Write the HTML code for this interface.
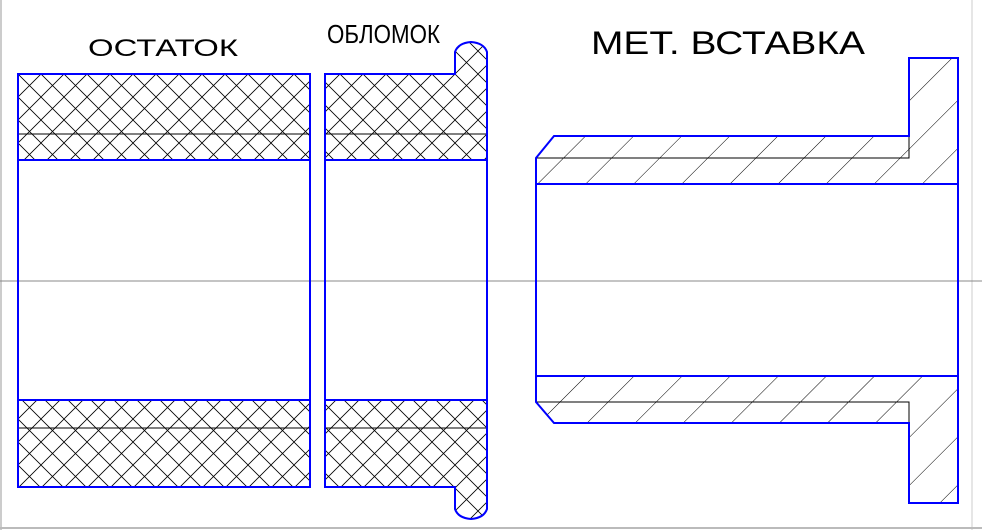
<!DOCTYPE html>
<html><head><meta charset="utf-8"><style>
html,body{margin:0;padding:0;background:#fff;width:982px;height:530px;overflow:hidden}
svg{display:block}
</style></head><body>
<svg width="982" height="530" xmlns="http://www.w3.org/2000/svg">
<defs>
<pattern id="x" width="23" height="23" patternUnits="userSpaceOnUse" x="18" y="74">
<path d="M0,0L23,23M23,0L0,23" stroke="#000" stroke-width="0.8"/>
</pattern>
<pattern id="h" width="34" height="34" patternUnits="userSpaceOnUse" patternTransform="rotate(-45)">
<path d="M0,0H34" stroke="#000" stroke-width="1"/>
</pattern>
</defs>
<line x1="1" y1="0" x2="1" y2="530" stroke="#999"/>
<line x1="972" y1="0" x2="972" y2="530" stroke="#ccc"/>
<line x1="0" y1="528" x2="982" y2="528" stroke="#bbb" stroke-width="2"/>
<line x1="0" y1="281" x2="982" y2="281" stroke="#888"/>
<g font-family="Liberation Sans, sans-serif" fill="#000">
<text x="88" y="56" font-size="24" textLength="150" lengthAdjust="spacingAndGlyphs">ОСТАТОК</text>
<text x="327" y="43" font-size="26" textLength="113" lengthAdjust="spacingAndGlyphs">ОБЛОМОК</text>
<text x="591" y="54" font-size="32" textLength="274" lengthAdjust="spacingAndGlyphs">МЕТ. ВСТАВКА</text>
</g>
<!-- left part -->
<rect x="18" y="74" width="292" height="86" fill="url(#x)"/>
<rect x="18" y="400" width="292" height="87" fill="url(#x)"/>
<line x1="18" y1="134" x2="310" y2="134" stroke="#000"/>
<line x1="18" y1="428" x2="310" y2="428" stroke="#000"/>
<rect x="18" y="74" width="292" height="413" fill="none" stroke="#00f" stroke-width="2"/>
<line x1="18" y1="160" x2="310" y2="160" stroke="#00f" stroke-width="2"/>
<line x1="18" y1="400" x2="310" y2="400" stroke="#00f" stroke-width="2"/>
<!-- middle part -->
<path d="M325,74H455V52Q458,43 471,42Q484,43 487,52V160H325Z" fill="url(#x)"/>
<path d="M325,487H455V509Q458,518 471,519Q484,518 487,509V400H325Z" fill="url(#x)"/>
<line x1="325" y1="134" x2="487" y2="134" stroke="#000"/>
<line x1="325" y1="428" x2="487" y2="428" stroke="#000"/>
<path d="M325,487V74H455V52Q458,43 471,42Q484,43 487,52V509Q484,518 471,519Q458,518 455,509V487Z" fill="none" stroke="#00f" stroke-width="2"/>
<line x1="325" y1="160" x2="487" y2="160" stroke="#00f" stroke-width="2"/>
<line x1="325" y1="400" x2="487" y2="400" stroke="#00f" stroke-width="2"/>
<!-- insert -->
<path d="M536,184V158L554,136H909V58H958V184Z" fill="url(#h)"/>
<path d="M536,376V402L554,423H909V503H958V376Z" fill="url(#h)"/>
<path d="M536,158H909V136" fill="none" stroke="#000"/>
<path d="M536,402H909V423" fill="none" stroke="#000"/>
<path d="M536,402V158L554,136H909V58H958V503H909V423H554Z" fill="none" stroke="#00f" stroke-width="2"/>
<line x1="536" y1="184" x2="958" y2="184" stroke="#00f" stroke-width="2"/>
<line x1="536" y1="376" x2="958" y2="376" stroke="#00f" stroke-width="2"/>
</svg>
</body></html>
